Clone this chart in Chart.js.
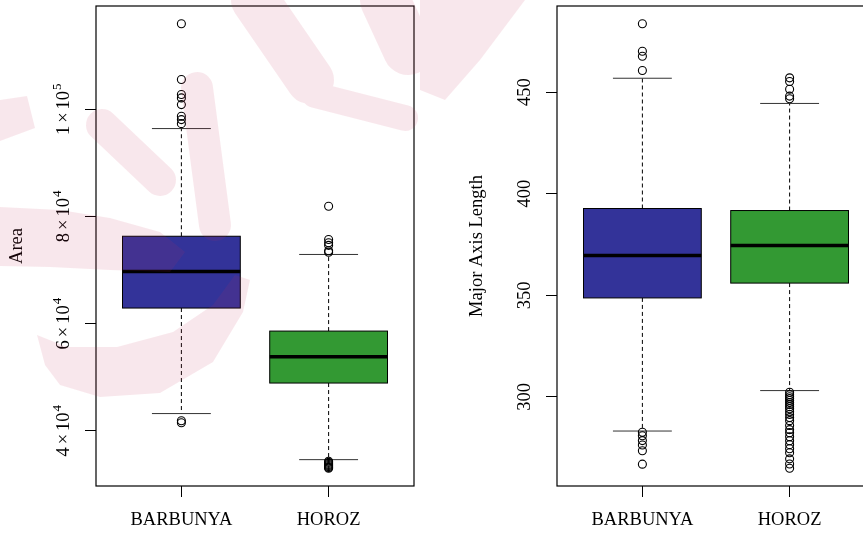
<!DOCTYPE html>
<html>
<head>
<meta charset="utf-8">
<script src="https://cdn.jsdelivr.net/npm/chart.js@4.4.0/dist/chart.umd.min.js"></script>
<style>
  html, body { margin: 0; padding: 0; background: #fff; overflow: hidden; }
  body { width: 863px; height: 535px; position: relative; }
  .panel { position: absolute; top: 0; height: 535px; }
  #left { left: 0; width: 430px; }
  #right { left: 430px; width: 460px; }
  #mark { position: absolute; left: 0; top: 0; pointer-events: none; opacity: 0.11; }
</style>
</head>
<body>
<div class="panel" id="left"><canvas id="area-chart"></canvas></div>
<div class="panel" id="right"><canvas id="major-chart"></canvas></div>
<canvas id="mark" width="863" height="535"></canvas>
<script>
// 품종
const categories = ['BARBUNYA', 'HOROZ'];
const boxColors = ['#333399', '#339933'];

// Area: [lower whisker, Q1, median, Q3, upper whisker]
const areaBarbunya = [43200, 62900, 69700, 76300, 96400];
const areaHoroz = [34600, 48900, 53800, 58600, 72900];
const areaOutBarbunya = [115960, 105550, 102750, 102120, 100870, 98690, 98070, 97320, 41870, 41500];
const areaOutHoroz = [81900, 75700, 75100, 74600, 73600, 73300,
  34300, 34100, 33900, 33700, 33500, 33300, 33150, 33000];
const areaTicks = [40000, 60000, 80000, 100000];

// Major Axis Length
const majorBarbunya = [283.2, 348.7, 369.6, 392.7, 456.8];
const majorHoroz = [303.1, 356.0, 374.5, 391.7, 444.4];
const majorOutBarbunya = [483.6, 470.1, 467.6, 460.6, 282.6, 280.9, 278.5, 276.3, 273.5, 266.9];
const majorOutHoroz = [457.0, 455.2, 451.4, 448.0, 446.7,
  302.3, 301.1, 300.1, 299.2, 298.2, 297.2, 296.2, 295.2, 294.2, 292.7, 291.3, 289.8,
  288.3, 285.9, 283.9, 282.4, 280.4, 278.4, 276.5, 274.5, 272.5, 269.5, 267.0, 264.9];
const majorTicks = [300, 350, 400, 450];

const serif = "'Liberation Serif', 'DejaVu Serif', serif";

// 박스, 수염, 중앙값, 테두리, y축 눈금 라벨
const boxPlugin = {
  id: 'boxes',
  beforeDatasetsDraw(chart, args, opts) {
    const { ctx, scales: { x, y } } = chart;
    opts.stats.forEach((s, i) => {
      const cx = x.getPixelForValue(i + 1);
      const half = x.getPixelForValue(i + 1.4) - cx;
      const capHalf = half / 2;
      const [lo, q1, med, q3, hi] = s.map(v => y.getPixelForValue(v));
      ctx.save();
      ctx.lineWidth = 1;
      ctx.strokeStyle = '#000';
      ctx.setLineDash([4, 3]);
      ctx.beginPath();
      ctx.moveTo(cx, q3); ctx.lineTo(cx, hi);
      ctx.moveTo(cx, q1); ctx.lineTo(cx, lo);
      ctx.stroke();
      ctx.setLineDash([]);
      ctx.strokeStyle = '#333';
      ctx.beginPath();
      ctx.moveTo(cx - capHalf, hi); ctx.lineTo(cx + capHalf, hi);
      ctx.moveTo(cx - capHalf, lo); ctx.lineTo(cx + capHalf, lo);
      ctx.stroke();
      ctx.fillStyle = opts.colors[i];
      ctx.fillRect(cx - half, q3, half * 2, q1 - q3);
      ctx.strokeStyle = '#000';
      ctx.strokeRect(cx - half, q3, half * 2, q1 - q3);
      ctx.lineWidth = 3.5;
      ctx.beginPath();
      ctx.moveTo(cx - half, med); ctx.lineTo(cx + half, med);
      ctx.stroke();
      ctx.restore();
    });
  },
  afterDraw(chart, args, opts) {
    const { ctx, chartArea: a, scales: { y } } = chart;
    ctx.save();
    ctx.strokeStyle = '#000';
    ctx.lineWidth = 1.2;
    ctx.strokeRect(a.left, a.top, a.right - a.left, a.bottom - a.top);
    ctx.fillStyle = '#000';
    ctx.textBaseline = 'alphabetic';
    ctx.textAlign = 'left';
    y.ticks.forEach(t => {
      const py = y.getPixelForValue(t.value);
      ctx.save();
      ctx.translate(a.left - opts.labelGap, py);
      ctx.rotate(-Math.PI / 2);
      if (opts.sci) {
        const exp = Math.floor(Math.log10(t.value));
        const mant = String(Math.round(t.value / Math.pow(10, exp)));
        const big = '18.5px ' + serif;
        const small = '13px ' + serif;
        ctx.font = big;
        const wM = ctx.measureText(mant).width;
        const wX = ctx.measureText('\u00d7').width;
        const wT = ctx.measureText('10').width;
        ctx.font = small;
        const wE = ctx.measureText(String(exp)).width;
        const gap = 3;
        const total = wM + gap + wX + gap + wT + 1 + wE;
        let px = -total / 2;
        ctx.font = big;
        ctx.fillText(mant, px, 0); px += wM + gap;
        ctx.fillText('\u00d7', px, 0); px += wX + gap;
        ctx.fillText('10', px, 0); px += wT + 1;
        ctx.font = small;
        ctx.fillText(String(exp), px, -8);
      } else {
        ctx.font = '18.5px ' + serif;
        ctx.textAlign = 'center';
        ctx.fillText(String(t.value), 0, 0);
      }
      ctx.restore();
    });
    ctx.restore();
  }
};

function makeChart(id, stats, outliers, ticks, title, cfg) {
  const all = stats.flat().concat(outliers.flat());
  const lo = Math.min(...all);
  const hi = Math.max(...all);
  const pad = (hi - lo) * 0.04;
  return new Chart(document.getElementById(id), {
    type: 'scatter',
    data: {
      datasets: outliers.map((vals, i) => ({
        data: vals.map(v => ({ x: i + 1, y: v })),
        pointRadius: 4,
        pointBorderWidth: 1.1,
        pointBorderColor: '#000',
        pointBackgroundColor: 'rgba(0,0,0,0)',
        showLine: false
      }))
    },
    options: {
      responsive: true,
      maintainAspectRatio: false,
      animation: false,
      layout: { padding: { left: 0, top: 6, right: cfg.padRight, bottom: 0 } },
      plugins: {
        legend: { display: false },
        tooltip: { enabled: false },
        boxes: { stats, colors: boxColors, sci: cfg.sci, labelGap: cfg.labelGap }
      },
      scales: {
        x: {
          type: 'linear',
          min: 0.42,
          max: 2.58,
          bounds: 'data',
          afterBuildTicks: s => { s.ticks = [{ value: 1 }, { value: 2 }]; },
          afterFit: s => { s.height = 49; },
          ticks: {
            autoSkip: false,
            maxRotation: 0,
            padding: 12,
            color: '#000',
            font: { family: serif, size: 18.5 },
            callback: v => categories[v - 1]
          },
          grid: { drawOnChartArea: false, drawTicks: true, tickLength: 11, color: '#000' },
          border: { display: false }
        },
        y: {
          type: 'linear',
          min: lo - pad,
          max: hi + pad,
          bounds: 'data',
          afterBuildTicks: s => { s.ticks = ticks.map(v => ({ value: v })); },
          afterFit: s => { s.width = cfg.axisWidth; },
          ticks: { display: false },
          grid: { drawOnChartArea: false, drawTicks: true, tickLength: 11, color: '#000' },
          border: { display: false },
          title: {
            display: true,
            text: title,
            color: '#000',
            font: { family: serif, size: 18.5 },
            padding: { top: cfg.titlePad, bottom: 0 }
          }
        }
      }
    },
    plugins: [boxPlugin]
  });
}

makeChart('area-chart', [areaBarbunya, areaHoroz], [areaOutBarbunya, areaOutHoroz], areaTicks, 'Area',
  { padRight: 16, axisWidth: 96, titlePad: 6, labelGap: 27.5, sci: true });
makeChart('major-chart', [majorBarbunya, majorHoroz], [majorOutBarbunya, majorOutHoroz], majorTicks, 'Major Axis Length',
  { padRight: 15, axisWidth: 127, titlePad: 36, labelGap: 27.5, sci: false });

// 배경 워터마크 (대략적인 분홍 붓자국, 캔버스 전체를 옅게)
const mctx = document.getElementById('mark').getContext('2d');
mctx.fillStyle = 'rgb(200, 50, 90)';
mctx.strokeStyle = 'rgb(200, 50, 90)';
const shapes = [
  [[0, 100], [27, 96], [35, 128], [0, 141]],
  [[0, 207], [60, 210], [110, 218], [160, 232], [185, 252], [170, 272], [110, 270], [50, 267], [0, 266]],
  [[37, 335], [45, 365], [60, 385], [100, 397], [160, 393], [213, 362], [243, 312], [250, 280],
   [235, 275], [213, 305], [173, 332], [117, 347], [67, 347]],
  [[420, 0], [525, 0], [480, 60], [445, 100], [420, 90]]
];
shapes.forEach(p => {
  mctx.beginPath();
  p.forEach(([x, y], i) => i ? mctx.lineTo(x, y) : mctx.moveTo(x, y));
  mctx.closePath();
  mctx.fill();
});
mctx.lineCap = 'round';
const strokes = [
  [[[255, 0], [310, 80]], 48],
  [[[385, 0], [408, 50]], 50],
  [[[315, 95], [405, 118]], 26],
  [[[102, 125], [160, 180]], 32],
  [[[197, 88], [215, 225]], 32]
];
strokes.forEach(([pts, w]) => {
  mctx.lineWidth = w;
  mctx.beginPath();
  pts.forEach(([x, y], i) => i ? mctx.lineTo(x, y) : mctx.moveTo(x, y));
  mctx.stroke();
});
</script>
</body>
</html>
